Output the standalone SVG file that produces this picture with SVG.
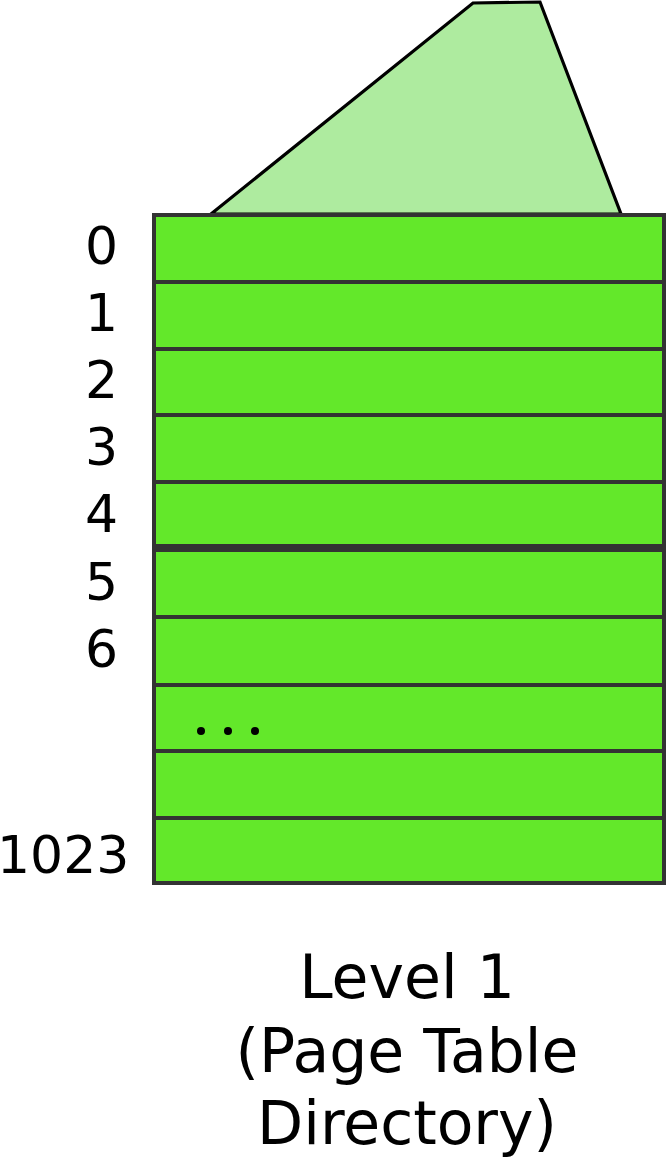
<svg xmlns="http://www.w3.org/2000/svg" width="667" height="1159" viewBox="0 0 667 1159">
<style>
.row{fill:#63e82a;stroke:#333;stroke-width:4}
.idx{font-family:"DejaVu Sans",sans-serif;font-size:52px;fill:#000}
.cap{font-family:"DejaVu Sans",sans-serif;font-size:60px;fill:#000;text-anchor:middle}
</style>
<rect width="667" height="1159" fill="#fff"/>
<g id="trapezoid">
<polygon points="211,214 473,3 540,2 621,214" fill="#aeeb9f" stroke="#000" stroke-width="3.2"/>
</g>
<g id="table">
<rect class="row" x="154" y="215" width="510" height="67"/>
<rect class="row" x="154" y="282" width="510" height="67"/>
<rect class="row" x="154" y="349" width="510" height="66"/>
<rect class="row" x="154" y="415" width="510" height="67"/>
<rect class="row" x="154" y="482" width="510" height="64"/>
<rect class="row" x="154" y="550" width="510" height="67"/>
<rect class="row" x="154" y="617" width="510" height="68"/>
<rect class="row" x="154" y="685" width="510" height="66"/>
<rect class="row" x="154" y="751" width="510" height="67"/>
<rect class="row" x="154" y="818" width="510" height="65"/>
<circle cx="201" cy="731" r="4"/>
<circle cx="228" cy="731" r="4"/>
<circle cx="255" cy="731" r="4"/>
</g>
<g id="labels">
<text class="idx" x="85" y="264">0</text>
<text class="idx" x="85" y="331">1</text>
<text class="idx" x="85" y="398">2</text>
<text class="idx" x="85" y="465">3</text>
<text class="idx" x="85" y="532">4</text>
<text class="idx" x="85" y="600">5</text>
<text class="idx" x="85" y="667">6</text>
<text class="idx" x="-3" y="873">1023</text>
</g>
<g id="caption">
<text class="cap" x="407" y="998">Level 1</text>
<text class="cap" x="407" y="1072">(Page Table</text>
<text class="cap" x="407" y="1144">Directory)</text>
</g>
</svg>
